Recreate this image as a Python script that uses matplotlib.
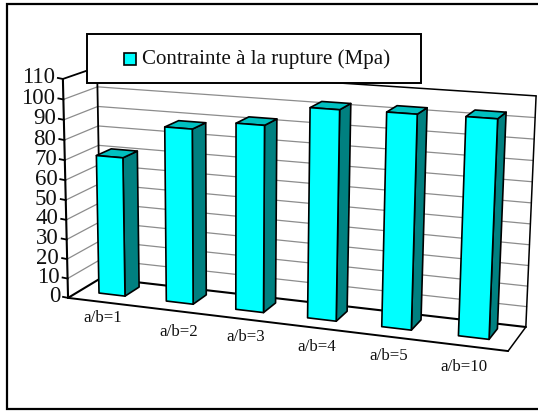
import numpy as np
import matplotlib
matplotlib.use('Agg')
import matplotlib.pyplot as plt
from matplotlib.patches import Polygon, Rectangle

categories = ['a/b=1', 'a/b=2', 'a/b=3', 'a/b=4', 'a/b=5', 'a/b=10']
values = [70.5, 87.5, 92, 102, 102.5, 103]
yticks = [0, 10, 20, 30, 40, 50, 60, 70, 80, 90, 100, 110]
series_name = 'Contrainte à la rupture (Mpa)'

W, H = 538, 412
YMAX = 110
CYAN = '#00ffff'
TOP = '#00c0c0'
SIDE = '#008080'

# box corners: (category, depth, value) -> pixel in the picture
world = [(0, 0, 0), (6, 0, 0), (0, 1, 0), (6, 1, 0), (0, 0, YMAX), (0, 1, YMAX), (6, 1, YMAX)]
pixels = [(69, 297), (508, 352), (100, 279), (526, 326), (62, 79), (98, 67), (536, 96)]


def fit_projection(world, pixels):
    """least squares fit of a 3x4 projective matrix"""
    rows = []
    rhs = []
    for (x, y, z), (u, v) in zip(world, pixels):
        rows.append([x, y, z, 1, 0, 0, 0, 0, -u * x, -u * y, -u * z])
        rows.append([0, 0, 0, 0, x, y, z, 1, -v * x, -v * y, -v * z])
        rhs += [u, v]
    p = np.linalg.lstsq(np.array(rows, float), np.array(rhs, float), rcond=None)[0]
    return np.append(p, 1).reshape(3, 4)


P = fit_projection(world, pixels)


def proj(x, y, z):
    q = P @ np.array([x, y, z, 1.0])
    return q[0] / q[2], q[1] / q[2]


fig = plt.figure(figsize=(W / 100, H / 100), dpi=100)
ax = fig.add_axes([0, 0, 1, 1])
ax.set_xlim(0, W)
ax.set_ylim(H, 0)
ax.axis('off')
plt.rcParams['font.family'] = ['Liberation Serif', 'DejaVu Serif']


def line(a, b, color='black', lw=1.0, zorder=2):
    pa, pb = proj(*a), proj(*b)
    ax.plot([pa[0], pb[0]], [pa[1], pb[1]], color=color, lw=lw, zorder=zorder,
            solid_capstyle='round')


def face(corners, color, zorder):
    ax.add_patch(Polygon([proj(*c) for c in corners], closed=True, facecolor=color,
                         edgecolor='black', lw=1.2, joinstyle='round', zorder=zorder))


# frame round the whole chart
ax.add_patch(Rectangle((7, 4), 600, 405, facecolor='white', edgecolor='black', lw=1.6, zorder=0))

# gridlines on side wall and back wall
for t in yticks[1:-1]:
    line((0, 0, t), (0, 1, t), color='#8c8c8c', lw=0.9)
    line((0, 1, t), (6, 1, t), color='#8c8c8c', lw=0.9)

# walls and floor edges
line((0, 0, 0), (0, 0, YMAX), lw=1.5, zorder=3)
line((0, 1, 0), (0, 1, YMAX), lw=1.3)
line((0, 0, YMAX), (0, 1, YMAX), lw=1.3)
line((0, 1, YMAX), (6, 1, YMAX), lw=1.1)
line((6, 1, YMAX), (6, 1, 0), lw=1.1)
line((0, 0, 0), (6, 0, 0), lw=1.4)
line((0, 0, 0), (0, 1, 0), lw=1.5)
line((0, 1, 0), (6, 1, 0), lw=1.5)
line((6, 0, 0), (6, 1, 0), lw=1.1)

# axis ticks and labels
for t in yticks:
    px, py = proj(0, 0, t)
    ax.plot([px - 5, px], [py - 1, py], color='black', lw=1.3, zorder=3)
    ax.text(px - 8, py - 1, str(t), ha='right', va='center', fontsize=16.5, color='#111111', zorder=5)

# bars
x0, x1 = 0.29, 0.68
y0, y1 = 0.35, 0.8
for i, val in enumerate(values):
    a, b = i + x0, i + x1
    face([(a, y0, 0), (b, y0, 0), (b, y0, val), (a, y0, val)], CYAN, 6)
    face([(b, y0, 0), (b, y1, 0), (b, y1, val), (b, y0, val)], SIDE, 5)
    face([(a, y0, val), (b, y0, val), (b, y1, val), (a, y1, val)], TOP, 5)

# category labels
label_pos = [(103, 318), (179, 332), (246, 337), (317, 347), (389, 356), (464, 367)]
for name, pos in zip(categories, label_pos):
    ax.text(pos[0], pos[1], name, ha='center', va='center', fontsize=12.2, color='#111111', zorder=5)

# legend
ax.add_patch(Rectangle((87, 34), 334, 49, facecolor='white', edgecolor='black', lw=1.4, zorder=8))
ax.add_patch(Rectangle((124, 53), 12, 12, facecolor=CYAN, edgecolor='black', lw=1.2, zorder=9))
ax.text(142, 59, series_name, ha='left', va='center', fontsize=15.1, color='#111111', zorder=9)

fig.savefig('out.png', dpi=100)
